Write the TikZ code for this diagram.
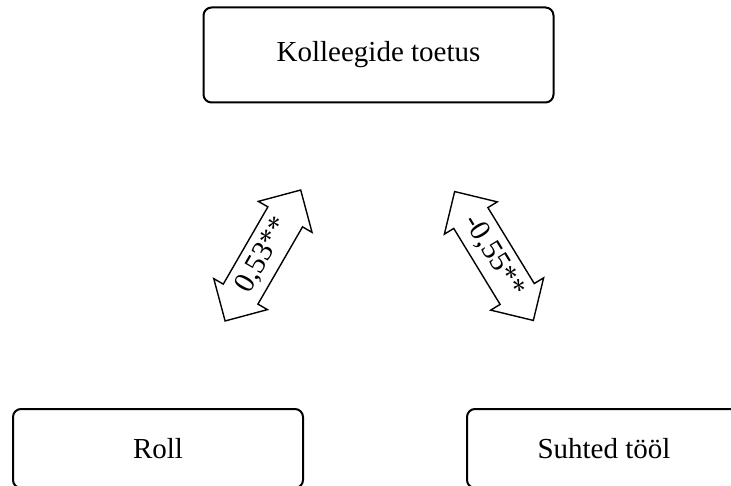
\documentclass[tikz,border=0pt]{standalone}
\usepackage{fontspec}
\setmainfont{Liberation Serif}
\tikzset{
  box/.style={draw, line width=2pt, rounded corners=8pt, inner sep=0pt,
    font=\fontsize{29}{34}\selectfont},
  arrowshape/.style={draw, line width=1.4pt, line join=miter, fill=white},
  arrowlabel/.style={inner sep=0pt, font=\fontsize{29.5}{34}\selectfont}
}
% #1 label node name, #2 centre, #3 angle, #4 half length, #5 label
\newcommand\twowayarrow[5]{%
  \begin{scope}[shift={#2}, rotate=#3]
    \draw[arrowshape] (#4,0) -- (#4-31,31) -- (#4-31,20) -- (-#4+31,20)
      -- (-#4+31,31) -- (-#4,0) -- (-#4+31,-31) -- (-#4+31,-20)
      -- (#4-31,-20) -- (#4-31,-31) -- cycle;
    \node[arrowlabel, rotate=#3] (#1) at (0,0) {#5};
  \end{scope}}
\begin{document}
\begin{tikzpicture}[x=1pt, y=1pt]
  \useasboundingbox (0,0) rectangle (731,-486);
  \clip (0,0) rectangle (731,-486);
  % factor boxes
  \node[box, minimum width=350pt, minimum height=95pt] (support) at (378.5,-55) {Kolleegide toetus};
  \node[box, minimum width=290pt, minimum height=79pt] (role) at (158,-448.5) {Roll};
  \node[box, minimum width=274pt, minimum height=79pt] (relations) at (604,-448.5) {Suhted tööl};
  % correlation arrows
  \twowayarrow{corrA}{(262.9,-255.5)}{60}{75.6}{0,53**}
  \twowayarrow{corrB}{(494,-256)}{-58.6}{75.5}{-0,55**}
\end{tikzpicture}
\end{document}
